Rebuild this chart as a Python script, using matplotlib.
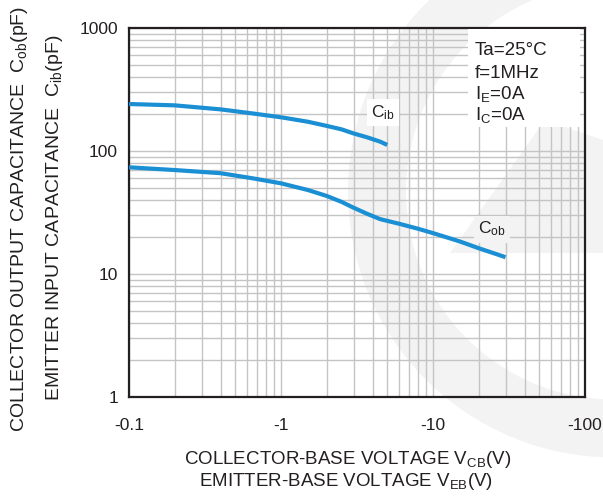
import matplotlib
matplotlib.use("Agg")
import matplotlib.pyplot as plt
from matplotlib.patches import Wedge, Polygon, Rectangle
from matplotlib.ticker import FixedLocator, NullFormatter, LogLocator

# ---- data ----
vcb_abs = [0.1, 0.2, 0.4, 0.65, 1.0, 1.5, 2.0, 2.5, 3.0, 3.7, 4.5, 6.0, 8.0, 10.0, 15.0, 20.0, 30.0]
cob_pf = [73.7, 70, 66, 60, 54.6, 48.2, 43.1, 38.6, 34.6, 30.8, 27.9, 25.6, 23.3, 21.5, 18.4, 16.2, 13.7]

veb_abs = [0.1, 0.2, 0.4, 0.65, 1.0, 1.5, 2.0, 2.5, 3.0, 3.7, 4.5, 5.0]
cib_pf = [241, 235, 218, 202, 188, 173, 160, 150, 139, 129, 119, 112]

x_ticks = [0.1, 1, 10, 100]
x_tick_labels = ["-0.1", "-1", "-10", "-100"]
y_ticks = [1, 10, 100, 1000]
y_tick_labels = ["1", "10", "100", "1000"]

conditions = ["Ta=25°C", "f=1MHz", r"I$_{\mathrm{E}}$=0A", r"I$_{\mathrm{C}}$=0A"]

# ---- style ----
plt.rcParams['font.family'] = ['Liberation Sans', 'DejaVu Sans']
plt.rcParams['mathtext.fontset'] = 'custom'
plt.rcParams['mathtext.rm'] = 'Liberation Sans'
plt.rcParams['mathtext.it'] = 'Liberation Sans'
TXT = '#231f20'
BLUE = '#1b8fd4'
GRID = '#c4c4c4'
WM = '#f3f3f3'

W, H = 603, 499
fig = plt.figure(figsize=(W / 100, H / 100), dpi=100)
fig.patch.set_facecolor('white')

# background watermark (pixel coordinate axes)
bg = fig.add_axes([0, 0, 1, 1], zorder=0)
bg.set_xlim(0, W)
bg.set_ylim(H, 0)
bg.axis('off')
bg.add_patch(Wedge((614, 191.5), 266, 0, 360, width=58, facecolor=WM, edgecolor='none'))
bg.add_patch(Polygon([(450, 253), (603, 253), (603, 140), (545, 120)], closed=True,
                     facecolor=WM, edgecolor='none'))

ax = fig.add_axes([129 / W, 1 - 397 / H, (585 - 129) / W, (397 - 28) / H], zorder=1)
ax.set_facecolor('none')
ax.set_xscale('log')
ax.set_yscale('log')
ax.set_xlim(0.1, 100)
ax.set_ylim(1, 1000)

ax.xaxis.set_major_locator(FixedLocator(x_ticks))
ax.yaxis.set_major_locator(FixedLocator(y_ticks))
ax.xaxis.set_minor_locator(LogLocator(base=10, subs=range(2, 10)))
ax.yaxis.set_minor_locator(LogLocator(base=10, subs=range(2, 10)))
ax.xaxis.set_minor_formatter(NullFormatter())
ax.yaxis.set_minor_formatter(NullFormatter())
ax.set_xticklabels(x_tick_labels)
ax.set_yticklabels(y_tick_labels)
ax.tick_params(which='both', length=0)
ax.tick_params(axis='x', pad=15, labelsize=12.5, labelcolor=TXT)
ax.tick_params(axis='y', pad=8, labelsize=12.5, labelcolor=TXT)
ax.grid(True, which='both', color=GRID, linewidth=1.0)
ax.set_axisbelow(True)
for s in ax.spines.values():
    s.set_color(TXT)
    s.set_linewidth(1.6)

ax.plot(veb_abs, cib_pf, color=BLUE, linewidth=3.0, solid_capstyle='butt', zorder=3)
ax.plot(vcb_abs, cob_pf, color=BLUE, linewidth=3.0, solid_capstyle='butt', zorder=3)

ax.text(4.69, 204, r"C$_{\mathrm{ib}}$", fontsize=12.5, color=TXT, ha='center', va='center',
        bbox=dict(facecolor='white', edgecolor='none', pad=3), zorder=4)
ax.text(24.4, 23.2, r"C$_{\mathrm{ob}}$", fontsize=12.5, color=TXT, ha='center', va='center',
        bbox=dict(facecolor=WM, edgecolor='none', pad=3), zorder=4)

# conditions box (white patch hiding the grid, then one text per line)
bg2 = fig.add_axes([0, 0, 1, 1], zorder=2)
bg2.set_xlim(0, W)
bg2.set_ylim(H, 0)
bg2.axis('off')
bg2.add_patch(Rectangle((468, 29), 112, 98, facecolor='white', edgecolor='none'))
for line, yb in zip(conditions, [55, 78, 99, 120]):
    bg2.text(475, yb, line, fontsize=13.5, color=TXT, ha='left', va='baseline')

# axis labels
fig.text(348 / W, 1 - 460 / H, r"COLLECTOR-BASE VOLTAGE V$_{\mathrm{CB}}$(V)", fontsize=13.5,
         color=TXT, ha='center', va='center')
fig.text(346 / W, 1 - 481 / H, r"EMITTER-BASE VOLTAGE V$_{\mathrm{EB}}$(V)", fontsize=13.5,
         color=TXT, ha='center', va='center')
fig.text(20 / W, 1 - 432 / H, r"COLLECTOR OUTPUT CAPACITANCE  C$_{\mathrm{ob}}$(pF)", fontsize=14,
         color=TXT, ha='center', va='bottom', rotation=90)
fig.text(55 / W, 1 - 401 / H, r"EMITTER INPUT CAPACITANCE  C$_{\mathrm{ib}}$(pF)", fontsize=14,
         color=TXT, ha='center', va='bottom', rotation=90)

fig.savefig("out.png", dpi=100, facecolor='white')
